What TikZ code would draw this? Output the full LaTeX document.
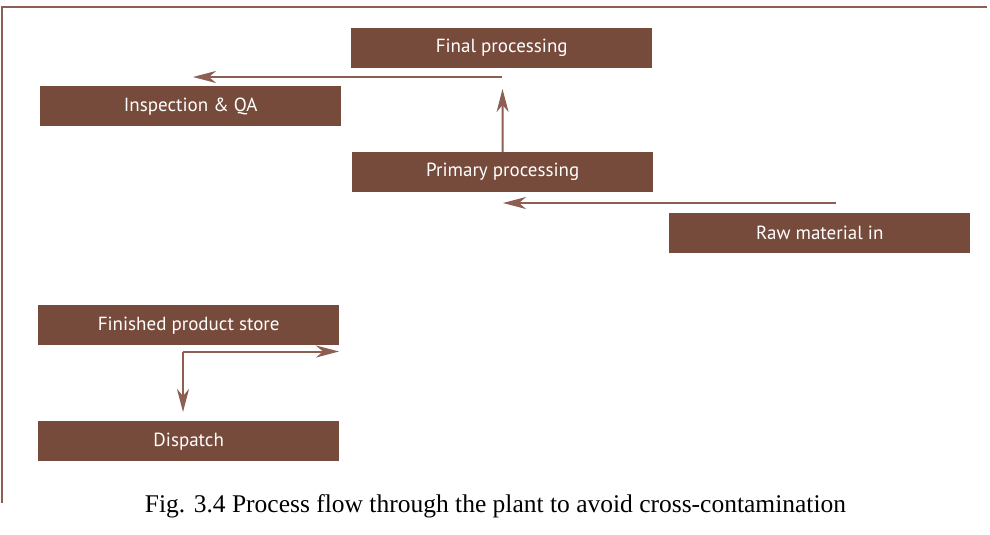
\documentclass[tikz,border=0pt]{standalone}
\usepackage{fontspec}
\setmainfont{Liberation Serif}
\newfontfamily\boxfont{PT Sans}
\usetikzlibrary{arrows.meta}
\definecolor{brn}{RGB}{119,75,59}
\definecolor{brnline}{RGB}{140,95,82}
\tikzset{
  box/.style={fill=brn, text=white, inner sep=0pt, minimum width=301pt, minimum height=40pt, anchor=north west, font=\boxfont\fontsize{19}{22}\selectfont},
  flow/.style={draw=brnline, line width=2pt, -{Stealth[length=23pt, width=12pt, inset=7pt]}},
  frame/.style={draw=brnline, line width=1.8pt}
}
\begin{document}
\begin{tikzpicture}[x=1pt, y=-1pt]
\useasboundingbox (0,0) rectangle (990,535);
\fill[white] (0,0) rectangle (990,535);
% frame
\coordinate (fa) at (2,503);
\coordinate (fb) at (2,7);
\coordinate (fc) at (987,7);
\draw[frame] (fa) -- (fb) -- (fc);
% boxes
\node[box] (final) at (351,28) {Final processing};
\node[box] (insp) at (40,86) {Inspection \& QA};
\node[box] (prim) at (352,152) {Primary processing};
\node[box] (raw) at (669,213) {Raw material in};
\node[box] (store) at (38,305) {Finished product store};
\node[box] (disp) at (38,421) {Dispatch};
% connectors
\coordinate (r1) at (836,203);
\coordinate (r2) at (503,203);
\draw[flow] (r1) -- (r2);
\coordinate (p1) at (502.5,89);
\draw[flow] (prim.north) -- (p1);
\coordinate (q1) at (502,77);
\coordinate (q2) at (193,77);
\draw[flow] (q1) -- (q2);
\coordinate (s0) at (183,351.5);
\coordinate (s1) at (339,351.5);
\coordinate (s2) at (183,412);
\draw[flow] (s0) -- (s1);
\draw[flow] (s0) -- (s2);
% caption
\node[anchor=base, inner sep=0pt, font=\fontsize{25.5}{30}\selectfont] (cap) at (495.5,512) {Fig. 3.4 Process flow through the plant to avoid cross-contamination};
\end{tikzpicture}
\end{document}
